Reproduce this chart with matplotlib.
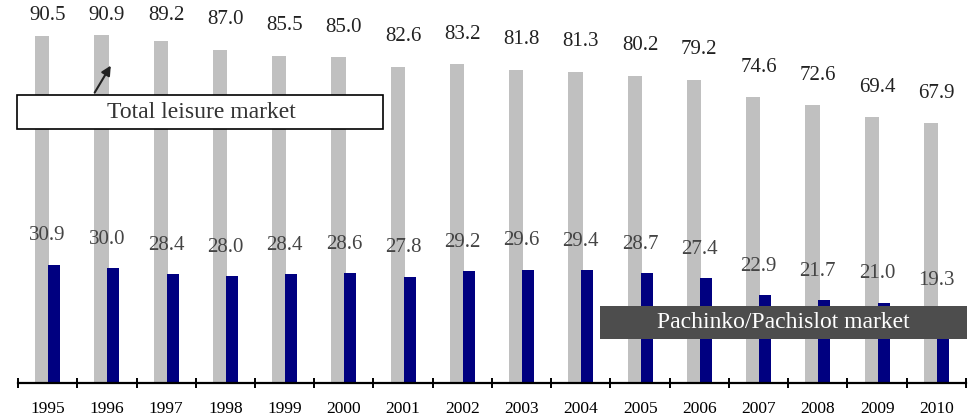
import numpy as np
import matplotlib
matplotlib.use('Agg')
import matplotlib.pyplot as plt
from matplotlib.patches import Rectangle

years = ['1995', '1996', '1997', '1998', '1999', '2000', '2001', '2002',
         '2003', '2004', '2005', '2006', '2007', '2008', '2009', '2010']
leisure = [90.5, 90.9, 89.2, 87.0, 85.5, 85.0, 82.6, 83.2,
           81.8, 81.3, 80.2, 79.2, 74.6, 72.6, 69.4, 67.9]
pachinko = [30.9, 30.0, 28.4, 28.0, 28.4, 28.6, 27.8, 29.2,
            29.6, 29.4, 28.7, 27.4, 22.9, 21.7, 21.0, 19.3]

plt.rcParams['font.family'] = ['Liberation Serif', 'DejaVu Serif']

fig = plt.figure(figsize=(9.78, 4.17), dpi=100)
ax = fig.add_axes([18 / 978, 34 / 417, 948 / 978, 383 / 417])

x = np.arange(len(years))
ax.bar(x - 0.09, leisure, width=0.24, color='#c0c0c0', zorder=2)
ax.bar(x + 0.11, pachinko, width=0.2, color='#000080', zorder=3)

for i in range(len(years)):
    ax.text(x[i], min(leisure[i] + 7.8, 96.0), f'{leisure[i]:.1f}', ha='center', va='center',
            fontsize=15, color='#222222')
    ax.text(x[i], pachinko[i] + 7.5, f'{pachinko[i]:.1f}', ha='center', va='center',
            fontsize=15, color='#444444')

ax.set_xlim(-0.5, len(years) - 0.5)
ax.set_ylim(0, 100)
for s in ['top', 'right', 'left']:
    ax.spines[s].set_visible(False)
ax.spines['bottom'].set_linewidth(1.6)
ax.spines['bottom'].set_zorder(5)
ax.set_yticks([])
ax.set_xticks(x)
ax.set_xticklabels(years, fontsize=12.5)
ax.tick_params(axis='x', which='major', length=0, pad=13)
ax.set_xticks(np.arange(-0.5, len(years)), minor=True)
ax.tick_params(axis='x', which='minor', length=7, width=1.4, direction='inout')

# callout: total leisure market
ax.add_patch(Rectangle((-0.517, 66.3), 6.18, 8.9, fc='white', ec='black', lw=1.2,
                       zorder=6, clip_on=False))
ax.text(2.59, 70.7, 'Total leisure market', ha='center', va='center', fontsize=17,
        color='#333333', zorder=7)
ax.annotate('', xy=(1.09, 83.5), xytext=(0.77, 75.2),
            arrowprops=dict(arrowstyle='-|>', color='#222222', lw=1.5, mutation_scale=14),
            zorder=7)

# callout: pachinko/pachislot market
ax.add_patch(Rectangle((9.32, 11.5), 6.2, 8.6, fc='#4d4d4d', ec='none', zorder=6,
                       clip_on=False))
ax.text(12.41, 15.8, 'Pachinko/Pachislot market', ha='center', va='center',
        fontsize=17, color='white', zorder=7)

fig.savefig('out.png', dpi=100)
